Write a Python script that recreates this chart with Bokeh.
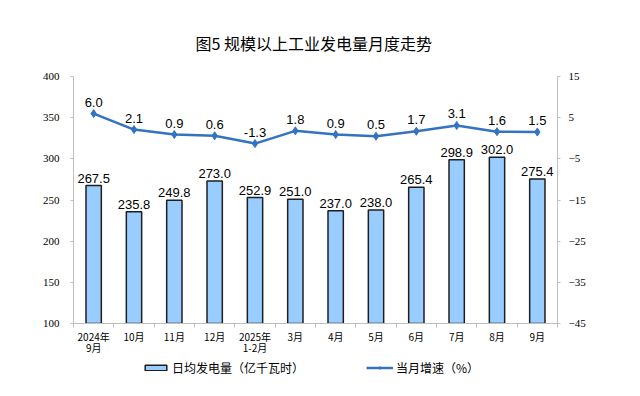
from bokeh.plotting import figure
from bokeh.layouts import column
from bokeh.models import Range1d, LinearAxis, FixedTicker, Legend, LegendItem, BoxAnnotation
from bokeh.core.properties import value
from bokeh.embed import file_html
from bokeh.resources import INLINE

categories = ["2024年\n9月", "10月", "11月", "12月", "2025年\n1-2月", "3月", "4月",
              "5月", "6月", "7月", "8月", "9月"]
daily_output = [267.5, 235.8, 249.8, 273.0, 252.9, 251.0, 237.0, 238.0, 265.4, 298.9, 302.0, 275.4]
growth = [6.0, 2.1, 0.9, 0.6, -1.3, 1.8, 0.9, 0.5, 1.7, 3.1, 1.6, 1.5]
left_ticks = [100, 150, 200, 250, 300, 350, 400]
right_ticks = [-45, -35, -25, -15, -5, 5, 15]
title_text = "图5  规模以上工业发电量月度走势"
bar_label = "日均发电量（亿千瓦时）"
line_label = "当月增速（%）"

xs = list(range(len(categories)))
BLUE = "#3472C2"
GRAY = "#BFBFBF"
BAR_FILL = "#99CCFF"
BAR_LINE = "#1E1E1E"
CJK = "Noto Sans CJK SC"

p = figure(width=632, height=357, output_backend="svg", toolbar_location=None,
           x_range=Range1d(-0.5, len(categories) - 0.5),
           y_range=Range1d(left_ticks[0], left_ticks[-1]),
           min_border_left=73, min_border_right=75, min_border_top=76, min_border_bottom=34,
           title=title_text)
p.title.align = "center"
p.title.text_font = CJK
p.title.text_font_size = "16px"
p.title.text_font_style = "normal"
p.title.text_color = "#000000"
p.title.standoff = 43

p.extra_y_ranges = {"pct": Range1d(right_ticks[0], right_ticks[-1])}
rax = LinearAxis(y_range_name="pct", ticker=FixedTicker(ticks=right_ticks))
p.add_layout(rax, "right")
lax = p.yaxis[0]
lax.ticker = FixedTicker(ticks=left_ticks)

p.xgrid.visible = False
p.ygrid.visible = False
p.outline_line_color = None
p.background_fill_color = "white"
p.border_fill_color = "white"

for ax in (lax, rax):
    ax.axis_line_color = GRAY
    ax.major_tick_line_color = GRAY
    ax.major_tick_out = 3
    ax.major_tick_in = 0
    ax.minor_tick_line_color = None
    ax.major_label_text_font = "Liberation Serif"
    ax.major_label_text_font_size = "11px"
    ax.major_label_text_color = "#000000"
lax.major_label_standoff = 11
rax.major_label_standoff = 8

xa = p.xaxis[0]
xa.ticker = FixedTicker(ticks=xs, minor_ticks=[i - 0.5 for i in range(len(categories) + 1)])
xa.major_label_overrides = {i: c for i, c in enumerate(categories)}
xa.axis_line_color = GRAY
xa.major_tick_line_color = None
xa.major_tick_out = 0
xa.major_tick_in = 0
xa.minor_tick_line_color = GRAY
xa.minor_tick_out = 4
xa.minor_tick_in = 0
xa.major_label_standoff = 1
xa.major_label_text_font = CJK
xa.major_label_text_font_size = "10px"
xa.major_label_text_line_height = 0.75
xa.major_label_text_color = "#000000"

p.vbar(x=xs, top=daily_output, bottom=left_ticks[0], width=0.38,
       fill_color=BAR_FILL, line_color=BAR_LINE, line_width=1.5)
p.text(x=xs, y=daily_output, text=[f"{v:.1f}" for v in daily_output],
       text_align="center", text_baseline="bottom", y_offset=-3,
       text_font=value("Liberation Sans"), text_font_size="13px", text_color="#000000")

p.line(x=xs, y=growth, y_range_name="pct", line_color=BLUE, line_width=2.5)
p.scatter(x=xs, y=growth, y_range_name="pct", marker="diamond", size=8,
          fill_color=BLUE, line_color=BLUE)
p.text(x=xs, y=growth, y_range_name="pct", text=[f"{v:.1f}" for v in growth],
       text_align="center", text_baseline="bottom", y_offset=-7,
       text_font=value("Liberation Sans"), text_font_size="13px", text_color="#000000")

# legend strip below the chart: glyphs are hidden under a white cover, only the key shows
lg = figure(width=632, height=32, output_backend="svg", toolbar_location=None,
            x_range=Range1d(-0.5, len(categories) - 0.5), y_range=Range1d(1000, 1001),
            x_axis_location=None, y_axis_location=None,
            min_border_left=73, min_border_right=75, min_border_top=0, min_border_bottom=0)
lg.xgrid.visible = False
lg.ygrid.visible = False
lg.outline_line_color = None
lbar = lg.vbar(x=xs, top=daily_output, bottom=left_ticks[0], width=0.38,
               fill_color=BAR_FILL, line_color=BAR_LINE, line_width=1.5)
lline = lg.line(x=xs, y=growth, line_color=BLUE, line_width=2.5)
lpts = lg.scatter(x=xs, y=growth, marker="diamond", size=7,
                  fill_color=BLUE, line_color=BLUE)
lg.add_layout(BoxAnnotation(fill_color="white", fill_alpha=1.0, line_color=None))
legend = Legend(items=[LegendItem(label=bar_label, renderers=[lbar]),
                       LegendItem(label=line_label, renderers=[lline, lpts])],
                location=(69, 13), orientation="horizontal",
                border_line_color=None, background_fill_alpha=0,
                padding=0, margin=0, spacing=62, glyph_width=27, glyph_height=7,
                label_standoff=3, label_text_font=CJK, label_text_font_size="12px",
                label_text_color="#000000", label_height=18)
lg.add_layout(legend, "center")

open("out.html", "w").write(file_html(column(p, lg), INLINE))
